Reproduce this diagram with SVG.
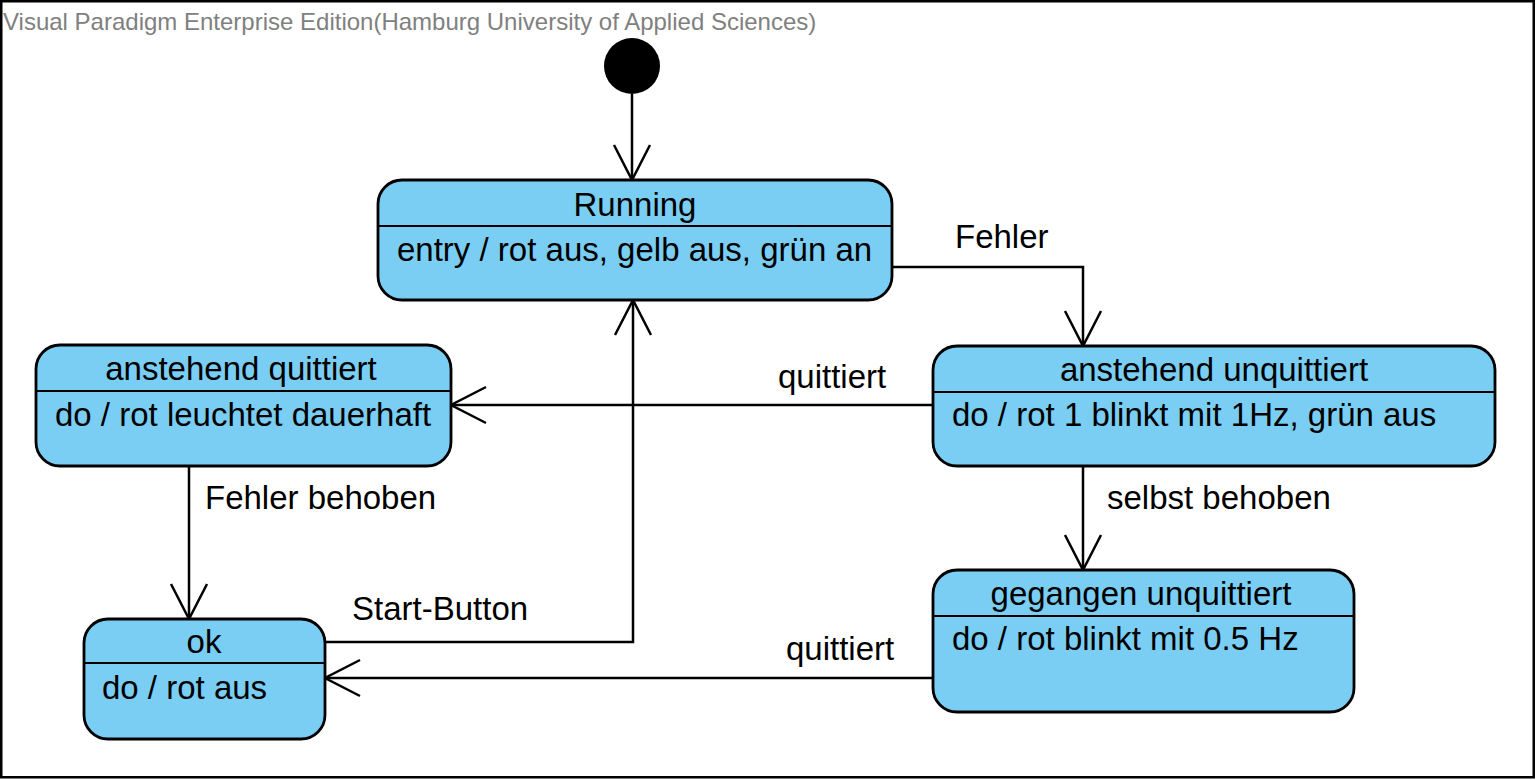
<svg xmlns="http://www.w3.org/2000/svg" width="1536" height="780" viewBox="0 0 1536 780">
<style>
.node{fill:#7acef4;stroke:#000;stroke-width:2.8}
.div{stroke:#000;stroke-width:2}
.t{font-family:"Liberation Sans",Arial,sans-serif;font-size:33px;fill:#000}
.c{text-anchor:middle}
.conn{fill:none;stroke:#000;stroke-width:2.5}
.hdr{font-family:"Liberation Sans",Arial,sans-serif;font-size:24px;fill:#808080}
</style>
<defs>
<marker id="open" viewBox="-40 -22 44 44" markerWidth="44" markerHeight="44" refX="0" refY="0" orient="auto" markerUnits="userSpaceOnUse">
<path d="M-35,-18 L0,0 L-35,18" fill="none" stroke="#000" stroke-width="2.5"/>
</marker>
</defs>
<rect x="0" y="0" width="1536" height="780" fill="#fff"/>
<rect x="1.25" y="1.25" width="1532.5" height="776" fill="none" stroke="#000" stroke-width="2.5"/>
<text class="hdr" x="3" y="30">Visual Paradigm Enterprise Edition(Hamburg University of Applied Sciences)</text>

<g id="connectors">
<path class="conn" d="M632,94 L632,180" marker-end="url(#open)"/>
<path class="conn" d="M892,267 L1083,267 L1083,346" marker-end="url(#open)"/>
<path class="conn" d="M933,405 L451,405" marker-end="url(#open)"/>
<path class="conn" d="M189,466 L189,619" marker-end="url(#open)"/>
<path class="conn" d="M1083,466 L1083,570" marker-end="url(#open)"/>
<path class="conn" d="M933,678 L325,678" marker-end="url(#open)"/>
<path class="conn" d="M325,642 L633,642 L633,300" marker-end="url(#open)"/>
<text class="t" x="955" y="248">Fehler</text>
<text class="t" x="778" y="388">quittiert</text>
<text class="t" x="205" y="509">Fehler behoben</text>
<text class="t" x="1107" y="509">selbst behoben</text>
<text class="t" x="786" y="660">quittiert</text>
<text class="t" x="352" y="620">Start-Button</text>
</g>

<g id="initial">
<circle cx="632" cy="66" r="28" fill="#000"/>
</g>

<g id="running">
<rect class="node" x="378" y="180" width="514" height="120" rx="24" ry="24"/>
<line class="div" x1="378" y1="226" x2="892" y2="226"/>
<text class="t c" x="635" y="216">Running</text>
<text class="t" x="397" y="261">entry / rot aus, gelb aus, grün an</text>
</g>

<g id="anstehend-quittiert">
<rect class="node" x="36" y="345" width="415" height="121" rx="24" ry="24"/>
<line class="div" x1="36" y1="391" x2="451" y2="391"/>
<text class="t c" x="241" y="380">anstehend quittiert</text>
<text class="t" x="55" y="426">do / rot leuchtet dauerhaft</text>
</g>

<g id="anstehend-unquittiert">
<rect class="node" x="933" y="346" width="562" height="120" rx="24" ry="24"/>
<line class="div" x1="933" y1="392" x2="1495" y2="392"/>
<text class="t c" x="1214" y="381">anstehend unquittiert</text>
<text class="t" x="952" y="426">do / rot 1 blinkt mit 1Hz, grün aus</text>
</g>

<g id="gegangen-unquittiert">
<rect class="node" x="933" y="570" width="421" height="142" rx="24" ry="24"/>
<line class="div" x1="933" y1="616" x2="1354" y2="616"/>
<text class="t c" x="1141" y="605">gegangen unquittiert</text>
<text class="t" x="952" y="650">do / rot blinkt mit 0.5 Hz</text>
</g>

<g id="ok">
<rect class="node" x="84" y="619" width="241" height="120" rx="24" ry="24"/>
<line class="div" x1="84" y1="663" x2="325" y2="663"/>
<text class="t c" x="204" y="653">ok</text>
<text class="t" x="102" y="699">do / rot aus</text>
</g>
</svg>
